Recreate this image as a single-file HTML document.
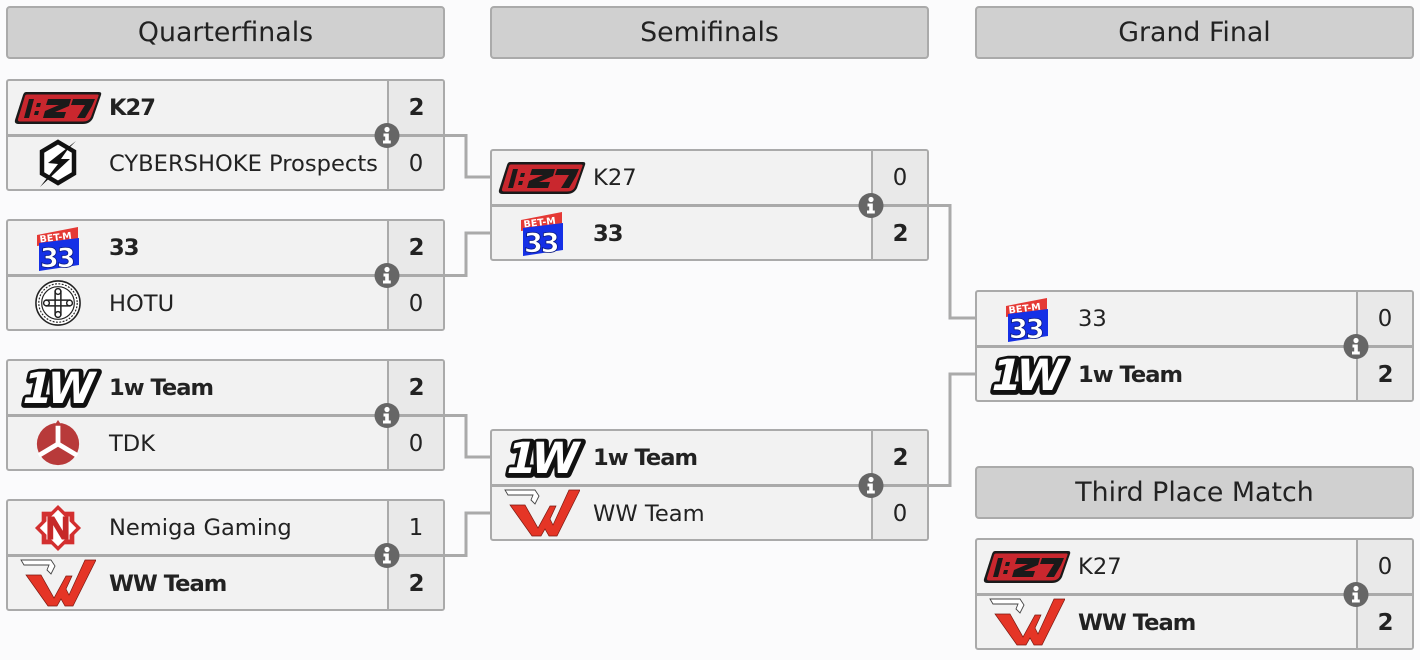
<!DOCTYPE html>
<html><head><meta charset="utf-8">
<style>
html,body{margin:0;padding:0;}
body{width:1420px;height:660px;background:#fbfbfc;position:relative;overflow:hidden;font-family:"DejaVu Sans","Liberation Sans",sans-serif;color:#222;}
.hdr{position:absolute;height:53px;width:439px;box-sizing:border-box;border:2px solid #aaa;border-radius:4px;background:#d0d0d0;font-size:26.8px;line-height:50px;text-align:center;color:#222;}
.box{position:absolute;width:439px;height:112px;box-sizing:border-box;border:2px solid #aaa;border-radius:3px;background:#f2f2f2;overflow:hidden;}
.div{position:absolute;left:0;right:0;top:53px;height:3px;background:#aaa;}
.sc{position:absolute;left:379px;top:0;bottom:0;width:2px;background:#aaa;}
.scbg{position:absolute;left:381px;right:0;top:0;bottom:0;background:#e9e9e9;}
.row{position:absolute;left:0;right:0;height:53px;}
.r1{top:0;}
.r2{top:57px;height:52px;}
.logo{position:absolute;left:3px;top:0;width:94px;height:100%;display:flex;align-items:center;justify-content:center;}
.r2 .logo{top:-1px;}
.nm{position:absolute;left:101px;top:0;height:100%;display:flex;align-items:center;font-size:22.6px;white-space:nowrap;}
.s{position:absolute;left:381px;right:0;top:0;height:100%;display:flex;align-items:center;justify-content:center;font-size:22.8px;}
.b{font-weight:bold;letter-spacing:-1px;}
svg.ov{position:absolute;left:0;top:0;}
</style></head><body>
<svg width="0" height="0" style="position:absolute">
<defs>
<symbol id="k27" viewBox="0 0 88 34">
<path d="M12,1 L85,1 Q88,1 87,4 L79,27 Q76,33 69,33 L5,33 Q0,33 1,29 L9,4 Q10,1 12,1 Z" fill="#1a1a1a"/>
<path d="M13,3.5 L83.5,3.5 Q85,3.5 84.5,5 L77,26 Q75,30.5 69,30.5 L6,30.5 Q3.5,30.5 4,28 L11,5 Q11.5,3.5 13,3.5 Z" fill="#c9272e"/>
<path d="M15,8 L20,8 L15,27 L10,27 Z M23,12 L27,12 L26,16 L22,16 Z M21,20 L25,20 L24,24 L20,24 Z" fill="#1a1a1a"/>
<path d="M34,8 L57,8 L55,15 L41,21 L52,21 L50,27 L29,27 L31,20 L45,14 L32,14 Z" fill="#1a1a1a"/>
<path d="M59,8 L81,8 L78,15 L71,27 L63,27 L71,14 L57,14 Z" fill="#1a1a1a"/>
</symbol>
<symbol id="cyber" viewBox="0 0 44 50">
<polygon points="22,4 38,13.5 38,35.5 22,45 6,35.5 6,13.5" fill="#fff" stroke="#111" stroke-width="4.5"/>
<polygon points="40,3 12,25 22,26 4,49 34,21 25,21 32,11" fill="#111"/>
</symbol>
<symbol id="bet33" viewBox="0 0 48 48">
<polygon points="3,11 44,3 44,16 3,22" fill="#e53935"/>
<text x="6" y="18.5" font-family="DejaVu Sans" font-weight="bold" font-size="9.5" fill="#fff" transform="rotate(-7 6 18)">BET-M</text>
<polygon points="5,19 45,14 45,41 5,47" fill="#1530e6"/>
<text x="6" y="43" font-family="DejaVu Sans" font-weight="bold" font-size="27" fill="#fff" stroke="#0a1a80" stroke-width="0.8" letter-spacing="-2">33</text>
</symbol>
<symbol id="hotu" viewBox="0 0 50 50">
<circle cx="25" cy="25" r="23" fill="#fff" stroke="#222" stroke-width="1.6"/>
<circle cx="25" cy="25" r="20" fill="none" stroke="#222" stroke-width="1.2" stroke-dasharray="2 1.5"/>
<circle cx="25" cy="25" r="17" fill="none" stroke="#222" stroke-width="1.2"/>
<path d="M22,12 V38 M28,12 V38 M12,22 H38 M12,28 H38" stroke="#222" stroke-width="1.6"/>
<circle cx="25" cy="13" r="3" fill="none" stroke="#222" stroke-width="1.5"/>
<circle cx="25" cy="37" r="3" fill="none" stroke="#222" stroke-width="1.5"/>
<circle cx="13" cy="25" r="3" fill="none" stroke="#222" stroke-width="1.5"/>
<circle cx="37" cy="25" r="3" fill="none" stroke="#222" stroke-width="1.5"/>
</symbol>
<symbol id="w1" viewBox="0 0 92 48">
<text x="7" y="41" font-family="DejaVu Sans" font-weight="bold" font-size="44" fill="#111" stroke="#111" stroke-width="8" stroke-linejoin="round" letter-spacing="-5" transform="skewX(-12) translate(9 0)">1W</text>
<text x="6" y="40" font-family="DejaVu Sans" font-weight="bold" font-size="44" fill="#fff" stroke="#111" stroke-width="5" paint-order="stroke" stroke-linejoin="round" letter-spacing="-5" transform="skewX(-12) translate(9 0)">1W</text>
</symbol>
<symbol id="tdk" viewBox="0 0 50 50">
<circle cx="25" cy="26" r="22" fill="#b83a3a"/>
<path d="M25,26 V4 M25,26 L5,38 M25,26 L45,38" stroke="#fff" stroke-width="5"/>
<polygon points="25,1 29,7 21,7" fill="#b83a3a"/>
</symbol>
<symbol id="nem" viewBox="0 0 50 50">
<polygon points="25,1 49,25 25,49 1,25" fill="#d32f2f"/>
<rect x="8" y="8" width="34" height="34" fill="#d32f2f"/>
<polygon points="25,6 44,25 25,44 6,25" fill="#fff"/>
<rect x="13" y="13" width="24" height="24" fill="#fff"/>
<path d="M14,13 H21 L30,28 V13 H36 V37 H29 L20,22 V37 H14 Z" fill="#c62828"/>
</symbol>
<symbol id="ww" viewBox="0 0 76 50">
<path d="M1,2 L31,2 L35,8 L31,16 L27,12 L29,7 L4,7 Z" fill="#fff" stroke="#444" stroke-width="0.9"/>
<path d="M6,17 L21,17 L34,40 L46,18 L52,18 L46,31 L49,37 L65,2 L76,2 L53,48 L45,48 L41,41 L37,48 L28,48 Z" fill="#e53526" stroke="#7a1a12" stroke-width="0.7"/>
</symbol>
</defs>
</svg>

<!-- connectors -->
<svg class="ov" width="1420" height="660" style="z-index:0">
<g fill="none" stroke="#aaa" stroke-width="3">
<path d="M440,135.5 H466 V177 H492"/>
<path d="M440,275.5 H466 V233 H492"/>
<path d="M440,415.5 H466 V457 H492"/>
<path d="M440,555.5 H466 V513 H492"/>
<path d="M924,205.5 H950 V318 H977"/>
<path d="M924,485.5 H950 V374 H977"/>
</g>
</svg>

<div class="hdr" style="left:6px;top:6px;">Quarterfinals</div>
<div class="hdr" style="left:490px;top:6px;">Semifinals</div>
<div class="hdr" style="left:975px;top:6px;">Grand Final</div>
<div class="hdr" style="left:975px;top:466px;">Third Place Match</div>

<!-- QF1 -->
<div class="box" style="left:6px;top:79px;">
<div class="scbg"></div><div class="sc"></div><div class="div"></div>
<div class="row r1"><div class="logo"><svg width="88" height="34"><use href="#k27"/></svg></div><div class="nm b">K27</div><div class="s b">2</div></div>
<div class="row r2"><div class="logo"><svg width="44" height="50"><use href="#cyber"/></svg></div><div class="nm">CYBERSHOKE Prospects</div><div class="s">0</div></div>
</div>
<!-- QF2 -->
<div class="box" style="left:6px;top:219px;">
<div class="scbg"></div><div class="sc"></div><div class="div"></div>
<div class="row r1"><div class="logo"><svg width="48" height="48"><use href="#bet33"/></svg></div><div class="nm b">33</div><div class="s b">2</div></div>
<div class="row r2"><div class="logo"><svg width="48" height="48"><use href="#hotu"/></svg></div><div class="nm">HOTU</div><div class="s">0</div></div>
</div>
<!-- QF3 -->
<div class="box" style="left:6px;top:359px;">
<div class="scbg"></div><div class="sc"></div><div class="div"></div>
<div class="row r1"><div class="logo"><svg width="90" height="47"><use href="#w1"/></svg></div><div class="nm b">1w Team</div><div class="s b">2</div></div>
<div class="row r2"><div class="logo"><svg width="48" height="48"><use href="#tdk"/></svg></div><div class="nm">TDK</div><div class="s">0</div></div>
</div>
<!-- QF4 -->
<div class="box" style="left:6px;top:499px;">
<div class="scbg"></div><div class="sc"></div><div class="div"></div>
<div class="row r1"><div class="logo"><svg width="48" height="48"><use href="#nem"/></svg></div><div class="nm">Nemiga Gaming</div><div class="s">1</div></div>
<div class="row r2"><div class="logo"><svg width="76" height="50"><use href="#ww"/></svg></div><div class="nm b">WW Team</div><div class="s b">2</div></div>
</div>

<!-- SF1 -->
<div class="box" style="left:490px;top:149px;">
<div class="scbg"></div><div class="sc"></div><div class="div"></div>
<div class="row r1"><div class="logo"><svg width="88" height="34"><use href="#k27"/></svg></div><div class="nm">K27</div><div class="s">0</div></div>
<div class="row r2"><div class="logo"><svg width="48" height="48"><use href="#bet33"/></svg></div><div class="nm b">33</div><div class="s b">2</div></div>
</div>
<!-- SF2 -->
<div class="box" style="left:490px;top:429px;">
<div class="scbg"></div><div class="sc"></div><div class="div"></div>
<div class="row r1"><div class="logo"><svg width="90" height="47"><use href="#w1"/></svg></div><div class="nm b">1w Team</div><div class="s b">2</div></div>
<div class="row r2"><div class="logo"><svg width="76" height="50"><use href="#ww"/></svg></div><div class="nm">WW Team</div><div class="s">0</div></div>
</div>

<!-- GF -->
<div class="box" style="left:975px;top:290px;">
<div class="scbg"></div><div class="sc"></div><div class="div"></div>
<div class="row r1"><div class="logo"><svg width="48" height="48"><use href="#bet33"/></svg></div><div class="nm">33</div><div class="s">0</div></div>
<div class="row r2"><div class="logo"><svg width="90" height="47"><use href="#w1"/></svg></div><div class="nm b">1w Team</div><div class="s b">2</div></div>
</div>
<!-- 3rd -->
<div class="box" style="left:975px;top:538px;">
<div class="scbg"></div><div class="sc"></div><div class="div"></div>
<div class="row r1"><div class="logo"><svg width="88" height="34"><use href="#k27"/></svg></div><div class="nm">K27</div><div class="s">0</div></div>
<div class="row r2"><div class="logo"><svg width="76" height="50"><use href="#ww"/></svg></div><div class="nm b">WW Team</div><div class="s b">2</div></div>
</div>

<!-- info icons -->
<svg class="ov" width="1420" height="660" style="z-index:5">
<defs>
<symbol id="info" viewBox="-13 -13 26 26">
<circle cx="0" cy="0" r="12.5" fill="#666"/>
<circle cx="0" cy="-6" r="2.6" fill="#fff"/>
<path d="M-3.5,-2 H1.8 V5 H3.8 V8 H-4 V5 H-1.8 V1 H-3.5 Z" fill="#fff"/>
</symbol>
</defs>
<use href="#info" x="374" y="122.5" width="26" height="26"/>
<use href="#info" x="374" y="262.5" width="26" height="26"/>
<use href="#info" x="374" y="402.5" width="26" height="26"/>
<use href="#info" x="374" y="542.5" width="26" height="26"/>
<use href="#info" x="858" y="192.5" width="26" height="26"/>
<use href="#info" x="858" y="472.5" width="26" height="26"/>
<use href="#info" x="1343" y="333.5" width="26" height="26"/>
<use href="#info" x="1343" y="581.5" width="26" height="26"/>
</svg>
</body></html>
